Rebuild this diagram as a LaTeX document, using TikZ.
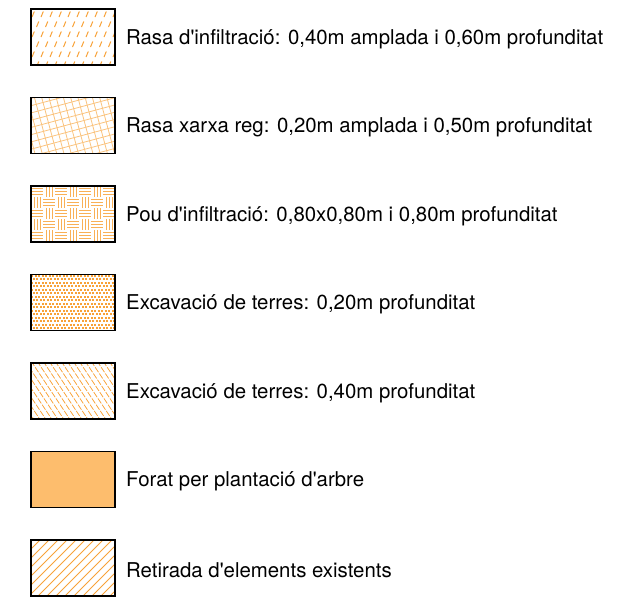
\documentclass[tikz,border=0pt]{standalone}
\usepackage{fontspec}
\setmainfont{TeX Gyre Heros}
\usetikzlibrary{positioning}
\definecolor{hatch}{HTML}{F8A238}
\definecolor{holefill}{HTML}{FDBD6D}

% pattern drawings, local coordinates 0..84 x 0..56
\newcommand{\dashfill}{%
  \foreach \j in {0,...,5}
    \foreach \i in {0,...,9}
      \draw[hatchline, line width=1pt] ({\i*9+mod(\j,2)*4.5+1},{\j*10+8}) -- ++(2.3,-5.5);}
\newcommand{\gridfill}{%
  \begin{scope}[rotate around={15:(42,28)}]
    \foreach \k in {-30,-23,...,120} {
      \draw[hatchline, hatch!65] (\k,-30) -- (\k,90);
      \draw[hatchline, hatch!65] (-30,\k) -- (120,\k);
    }
  \end{scope}}
\newcommand{\weavefill}{%
  \foreach \i in {0,...,7}
    \foreach \j in {0,...,5} {
      \pgfmathtruncatemacro\parity{mod(\i+\j,2)}
      \ifnum\parity=0
        \foreach \d in {3,6,9}
          \draw[hatchline, hatch!85] (\i*12,{\j*11+\d*11/12}) -- ++(12,0);
      \else
        \foreach \d in {3,6,9}
          \draw[hatchline, hatch!85] (\i*12+\d,\j*11) -- ++(0,11);
      \fi
    }}
\newcommand{\speckfill}{%
  \foreach \i in {0,...,24}
    \foreach \j in {0,...,16}
      \fill[hatch] ({\i*3.5+mod(\j,2)*1.75},{\j*3.5}) rectangle ++(2,2);}
\newcommand{\streakfill}{%
  \foreach \k in {-60,-54,...,96}
    \draw[hatchline, dash pattern=on 6pt off 1.5pt] (\k,-2) -- ++(40,60);}
\newcommand{\plainfill}{\fill[holefill] (0,0) rectangle (84,56);}
\newcommand{\slashfill}{%
  \foreach \k in {-60,-51,...,96}
    \draw[hatchline] (\k,60) -- ++(62,-62);}

% fill a swatch node with one of the patterns, then frame it
\newcommand{\swatchfill}[2]{%
  \begin{scope}
    \clip (#1.north west) rectangle (#1.south east);
    \begin{scope}[shift={(#1.north west)}]
      #2
    \end{scope}
  \end{scope}
  \draw[frame] (#1.north west) rectangle (#1.south east);}

\begin{document}
\begin{tikzpicture}[x=1pt, y=-1pt,
    swatch/.style={minimum width=84pt, minimum height=56pt, inner sep=0pt,
                   outer sep=0pt, anchor=north west},
    frame/.style={draw=black, line width=1.7pt},
    legtext/.style={font=\fontsize{20.4}{24}\selectfont, inner sep=0pt, anchor=west,
                    yshift=-2pt},
    hatchline/.style={hatch, line width=0.8pt},
  ]
  \useasboundingbox (0,0) rectangle (630,600);

  \node[swatch] (box1) at (31,9)     {};
  \node[swatch] (box2) at (31,97.5)  {};
  \node[swatch] (box3) at (31,186)   {};
  \node[swatch] (box4) at (31,274.5) {};
  \node[swatch] (box5) at (31,363)   {};
  \node[swatch] (box6) at (31,451.5) {};
  \node[swatch] (box7) at (31,540)   {};

  \swatchfill{box1}{\dashfill}
  \swatchfill{box2}{\gridfill}
  \swatchfill{box3}{\weavefill}
  \swatchfill{box4}{\speckfill}
  \swatchfill{box5}{\streakfill}
  \swatchfill{box6}{\plainfill}
  \swatchfill{box7}{\slashfill}

  \node[legtext, right=11pt of box1] (lab1) {Rasa d\textquotesingle infiltració: 0,40m amplada i 0,60m profunditat};
  \node[legtext, right=11pt of box2] (lab2) {Rasa xarxa reg: 0,20m amplada i 0,50m profunditat};
  \node[legtext, right=11pt of box3] (lab3) {Pou d\textquotesingle infiltració: 0,80x0,80m i 0,80m profunditat};
  \node[legtext, right=11pt of box4] (lab4) {Excavació de terres: 0,20m profunditat};
  \node[legtext, right=11pt of box5] (lab5) {Excavació de terres: 0,40m profunditat};
  \node[legtext, right=11pt of box6] (lab6) {Forat per plantació d\textquotesingle arbre};
  \node[legtext, right=11pt of box7] (lab7) {Retirada d\textquotesingle elements existents};
\end{tikzpicture}
\end{document}
